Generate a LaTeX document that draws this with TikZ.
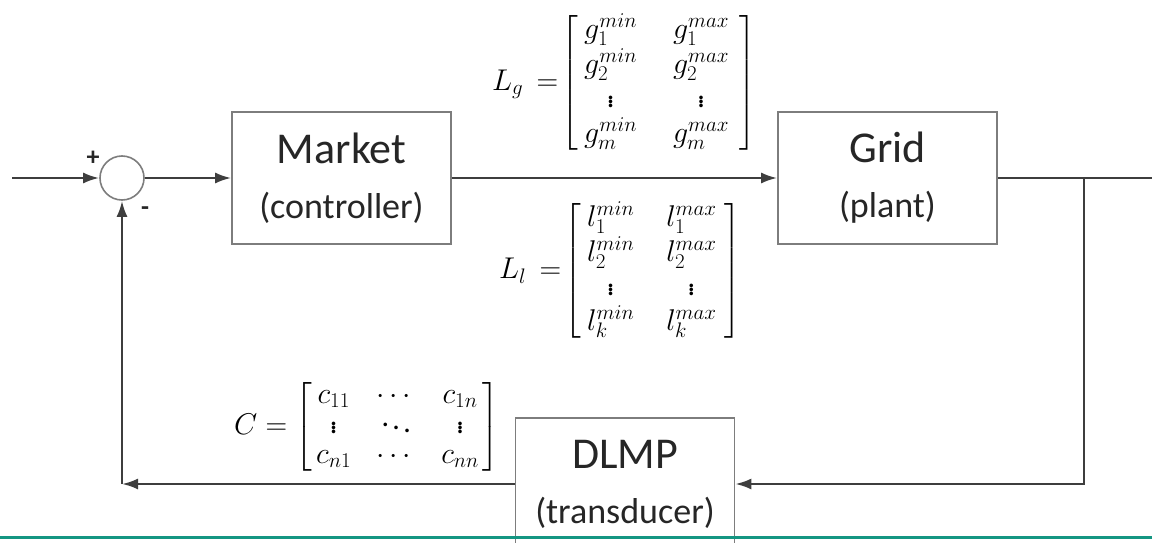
\RequirePackage{fix-cm}
\documentclass[tikz,border=0pt]{standalone}
\usepackage{amsmath}
\usepackage[no-math]{fontspec}
\setmainfont{Carlito}
\usetikzlibrary{arrows.meta,positioning}
\definecolor{wiregray}{RGB}{62,62,62}
\definecolor{boxgray}{RGB}{125,125,125}
\definecolor{rulegreen}{RGB}{20,150,130}

\begin{document}
\begin{tikzpicture}[
  x=1pt,y=-1pt,>=Latex,
  sig/.style={-{Latex[length=16pt,width=11pt]},draw=wiregray,line width=2.4pt},
  wire/.style={draw=wiregray,line width=2.4pt},
  block/.style={draw=boxgray,line width=1.6pt,fill=white,minimum width=219pt,minimum height=132pt,
                align=center,inner sep=0pt,text=black!85,font=\fontsize{44}{55}\selectfont},
  sumnode/.style={circle,draw=boxgray,line width=1.6pt,minimum size=44pt,inner sep=0pt},
  eqn/.style={anchor=west,inner sep=0pt,text=black,font=\fontsize{30}{34}\selectfont},
  sign/.style={inner sep=0pt,text=black!85,font=\fontsize{26}{30}\selectfont\bfseries}
]
\useasboundingbox (0,0) rectangle (1152,543);
\clip (0,0) rectangle (1152,543);
% ---------- blocks
\node[sumnode] (sum)    at (122,178) {};
\node[block]   (market) at (341.5,178) {Market\\{\fontsize{36}{55}\selectfont (controller)}};
\node[block]   (grid)   at (887.5,178) {Grid\\{\fontsize{36}{55}\selectfont (plant)}};
\node[block]   (dlmp)   at (625,484)   {DLMP\\{\fontsize{36}{55}\selectfont (transducer)}};
\node[sign] (plus)  at (93,158)  {+};
\node[sign] (minus) at (145,211) {-};
% ---------- matrices
\node[eqn] (Lg) at (492,83)
  {$L_g\,=\!\left[\begin{array}{@{\hspace{6pt}}c@{\hspace{36pt}}c@{\hspace{10pt}}}
    g_1^{min} & g_1^{max}\\ g_2^{min} & g_2^{max}\\ \vdots & \vdots\\ g_m^{min} & g_m^{max}
   \end{array}\right]$};
\node[eqn] (Ll) at (499,271)
  {$L_l\,=\!\left[\begin{array}{@{\hspace{6pt}}c@{\hspace{32pt}}c@{\hspace{8pt}}}
    l_1^{min} & l_1^{max}\\ l_2^{min} & l_2^{max}\\ \vdots & \vdots\\ l_k^{min} & l_k^{max}
   \end{array}\right]$};
\node[eqn,font=\fontsize{30}{30}\selectfont] (C) at (234,427)
  {$C=\left[\begin{array}{@{\hspace{4pt}}c@{\hspace{25pt}}c@{\hspace{25pt}}c@{\hspace{4pt}}}
    c_{11} & \cdots & c_{1n}\\ \vdots & \ddots & \vdots\\ c_{n1} & \cdots & c_{nn}
   \end{array}\right]$};
% ---------- connectors
\coordinate (in)     at (12,178);
\coordinate (out)    at (1152,178);
\coordinate (branch) at (1084,178);
\coordinate (fbl)    at (122,484);
\draw[sig] (in) -- (sum.west);
\draw[sig] (sum.east) -- (market.west);
\draw[sig] (market.east) -- (grid.west);
\draw[wire] (grid.east) -- (out);
\draw[sig] (branch) |- (dlmp.east);
\draw[sig] (dlmp.west) -- (fbl);
\draw[sig] (fbl) -- (sum.south);
\draw[rulegreen,line width=3pt] (0,537) -- (1152,537);
\end{tikzpicture}
\end{document}
